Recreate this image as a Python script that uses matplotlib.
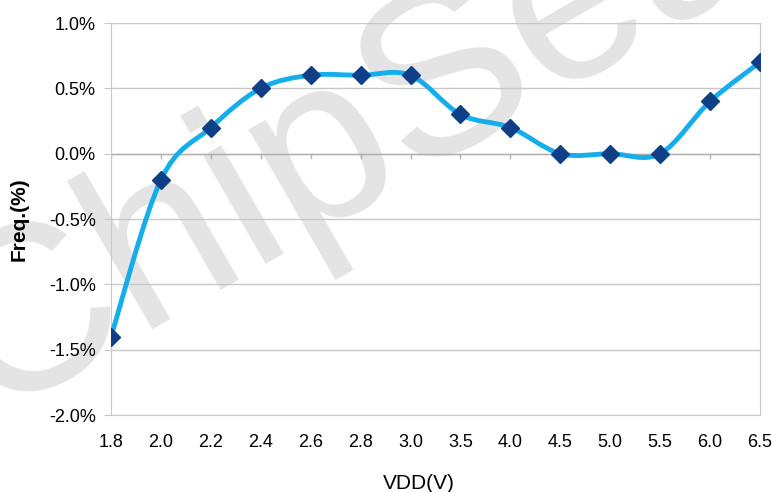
import matplotlib as mpl
mpl.use('Agg')
import numpy as np
import matplotlib.pyplot as plt
from matplotlib.path import Path
from matplotlib.patches import PathPatch
from matplotlib.ticker import FuncFormatter

mpl.rcParams.update({
    'font.family': ['Liberation Sans', 'DejaVu Sans'],
    'font.size': 13,
})

vdd = ['1.8', '2.0', '2.2', '2.4', '2.6', '2.8', '3.0',
       '3.5', '4.0', '4.5', '5.0', '5.5', '6.0', '6.5']
freq = [-1.4, -0.2, 0.2, 0.5, 0.6, 0.6, 0.6,
        0.3, 0.2, 0.0, 0.0, 0.0, 0.4, 0.7]

x = np.arange(len(vdd))
y = np.array(freq)

fig = plt.figure(figsize=(7.72, 4.92), dpi=100)
ax = fig.add_axes([111/772, 1 - 415/492, (760-111)/772, (415-23)/492])

# watermark, behind the grid
ax.text(0.455, 0.72, 'ChipSea', transform=fig.transFigure, fontsize=170,
        color='#e4e4e4', rotation=30, rotation_mode='anchor',
        ha='center', va='center', zorder=0.1, clip_on=False)

# smoothed line (Catmull-Rom as cubic Bezier segments)
pts = np.column_stack([x, y])
verts = [pts[0]]
codes = [Path.MOVETO]
for i in range(len(pts) - 1):
    p0 = pts[max(i - 1, 0)]
    p1 = pts[i]
    p2 = pts[i + 1]
    p3 = pts[min(i + 2, len(pts) - 1)]
    c1 = p1 + (p2 - p0) / 6
    c2 = p2 - (p3 - p1) / 6
    verts += [c1, c2, p2]
    codes += [Path.CURVE4] * 3
ax.add_patch(PathPatch(Path(verts, codes), fill=False, edgecolor='#16aeea',
                       lw=3.5, zorder=3, capstyle='round'))
ax.plot(x, y, linestyle='none', marker='D', markersize=9,
        color='#0f3f86', zorder=4)

ax.set_xlim(0, len(vdd) - 1)
ax.set_ylim(-2.0, 1.0)
ax.set_yticks(np.arange(-2.0, 1.01, 0.5))
ax.yaxis.set_major_formatter(FuncFormatter(lambda v, p: f'{v:.1f}%'))
ax.set_xticks(x)
ax.set_xticklabels(vdd)
ax.grid(axis='y', color='#c8c8c8', lw=1, zorder=0.5)
ax.set_axisbelow(True)

for s in ['left', 'right', 'bottom', 'top']:
    ax.spines[s].set_color('#c8c8c8')
ax.spines['top'].set_visible(False)

# horizontal axis line at zero with tick marks
ax.axhline(0, color='#b0b0b0', lw=1, zorder=2)
for xi in x:
    ax.plot([xi, xi], [0, -0.035], color='#b0b0b0', lw=1, zorder=2)

ax.tick_params(axis='x', length=0, pad=14, labelsize=13)
ax.tick_params(axis='y', length=5, color='#c8c8c8', pad=6, labelsize=13)

ax.set_ylabel('Freq.(%)', fontweight='bold', fontsize=15)
ax.yaxis.set_label_coords(-0.127, 0.5)
ax.set_xlabel('VDD(V)', fontsize=15)
ax.xaxis.set_label_coords(0.475, -0.15)

fig.savefig('out.png', dpi=100)
